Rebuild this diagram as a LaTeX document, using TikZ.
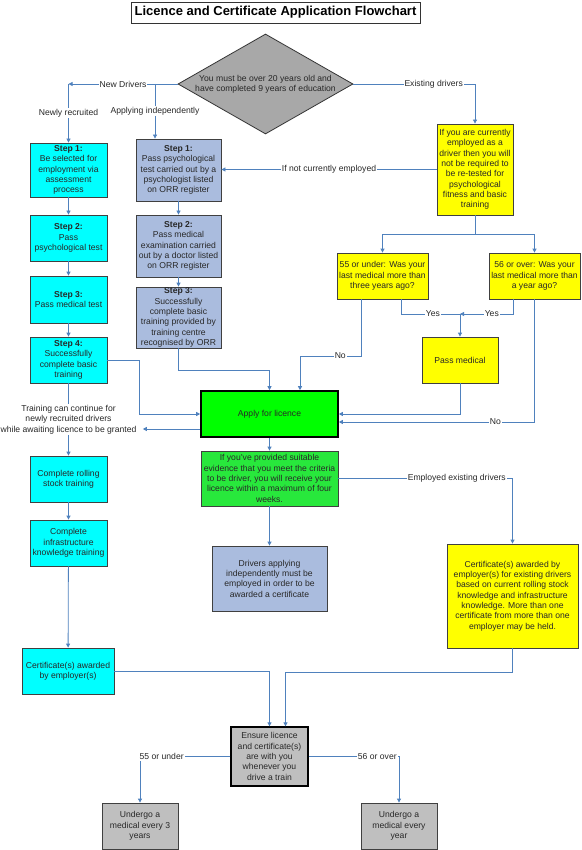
\documentclass[tikz,border=0pt]{standalone}
\usepackage{fontspec}
\setmainfont{Liberation Sans}
\usepackage{tikz}
\usetikzlibrary{arrows.meta,shapes.geometric,positioning,calc}
\definecolor{flowline}{RGB}{79,129,189}
\definecolor{stepcyan}{RGB}{0,255,255}
\definecolor{stepblue}{RGB}{170,188,222}
\definecolor{noteyellow}{RGB}{255,255,0}
\definecolor{applygreen}{RGB}{0,255,0}
\definecolor{evidgreen}{RGB}{40,232,60}
\definecolor{boxgray}{RGB}{191,191,191}
\definecolor{diagray}{RGB}{168,168,168}
\definecolor{txtgray}{RGB}{40,40,40}

\begin{document}
\begin{tikzpicture}[x=1pt,y=-1pt,
  every node/.style={font=\fontsize{8.6}{10.3}\selectfont, text=txtgray},
  box/.style={draw=black!75, line width=0.8pt, align=center, inner sep=1pt},
  cyanbox/.style={box, fill=stepcyan, minimum width=77pt},
  bluebox/.style={box, fill=stepblue, minimum width=85pt},
  yelbox/.style={box, fill=noteyellow},
  graybox/.style={box, fill=boxgray, minimum width=76pt},
  lbl/.style={fill=white, inner sep=1pt},
  link/.style={draw=flowline, line width=0.8pt},
  flow/.style={link, -{Triangle[length=4pt,width=4pt]}}]
  \useasboundingbox (0,0) rectangle (581,850);

  \node[draw=black!80, line width=0.8pt, minimum width=289pt, minimum height=21pt, inner sep=0pt,
        text=black, font=\bfseries\fontsize{13}{15}\selectfont] (title) at (275.5,12.5)
        {Licence and Certificate Application Flowchart};
  \node[diamond, draw=black!80, line width=0.8pt, fill=diagray, aspect=1.75, inner sep=0pt,
        minimum width=175pt, minimum height=100pt, align=center] (dia) at (265.5,84)
        {You must be over 20 years old and\\have completed 9 years of education};

  % newly recruited drivers
  \node[cyanbox, minimum height=54pt] (cs1) at (68.5,170) {\textbf{Step 1:}\\Be selected for\\employment via\\assessment\\process};
  \node[cyanbox, minimum height=46pt] (cs2) at (68.5,238) {\textbf{Step 2:}\\Pass\\psychological test};
  \node[cyanbox, minimum height=47pt] (cs3) at (68.5,299.5) {\textbf{Step 3:}\\Pass medical test};
  \node[cyanbox, minimum height=46pt] (cs4) at (68.5,360) {\textbf{Step 4:}\\Successfully\\complete basic\\training};
  \node[cyanbox, minimum height=46pt] (roll) at (68.5,479) {Complete rolling\\stock training};
  \node[cyanbox, minimum height=46pt] (infra) at (68.5,543) {Complete\\infrastructure\\knowledge training};
  \node[cyanbox, minimum width=92pt, minimum height=46pt] (cert) at (68,671) {Certificate(s) awarded\\by employer(s)};

  % applying independently
  \node[bluebox, minimum height=62pt] (bs1) at (178.5,170) {\textbf{Step 1:}\\Pass psychological\\test carried out by a\\psychologist listed\\on ORR register};
  \node[bluebox, minimum height=62pt] (bs2) at (178.5,246) {\textbf{Step 2:}\\Pass medical\\examination carried\\out by a doctor listed\\on ORR register};
  \node[bluebox, minimum height=61pt, inner sep=0pt] (bs3) at (178.5,317.5) {\textbf{Step 3:}\\Successfully\\complete basic\\training provided by\\training centre\\recognised by ORR};
  \node[bluebox, minimum width=115pt, minimum height=65pt] (indep) at (269.5,578.5) {Drivers applying\\independently must be\\employed in order to be\\awarded a certificate};

  % existing drivers
  \node[yelbox, minimum width=76pt, minimum height=91pt] (curr) at (475,169.5) {If you are currently\\employed as a\\driver then you will\\not be required to\\be re-tested for\\psychological\\fitness and basic\\training};
  \node[yelbox, minimum width=91pt, minimum height=46pt] (under) at (382.5,276) {55 or under: Was your\\last medical more than\\three years ago?};
  \node[yelbox, minimum width=91pt, minimum height=46pt] (over) at (534.5,276) {56 or over: Was your\\last medical more than\\a year ago?};
  \node[yelbox, minimum width=76pt, minimum height=46pt] (pass) at (460,360) {Pass medical};
  \node[yelbox, minimum width=131pt, minimum height=104pt] (ycert) at (512.5,596) {Certificate(s) awarded by\\employer(s) for existing drivers\\based on current rolling stock\\knowledge and infrastructure\\knowledge. More than one\\certificate from more than one\\employer may be held.};

  % licence
  \node[box, draw=black, line width=1.6pt, fill=applygreen, minimum width=137pt, minimum height=46pt] (apply) at (269.5,414) {Apply for licence};
  \node[box, fill=evidgreen, minimum width=137pt, minimum height=55pt] (evid) at (269.5,478.5) {If you’ve provided suitable\\evidence that you meet the criteria\\to be driver, you will receive your\\licence within a maximum of four\\weeks.};
  \node[graybox, draw=black, line width=1.3pt, minimum width=77pt, minimum height=59pt] (ensure) at (269.5,756.5) {Ensure licence\\and certificate(s)\\are with you\\whenever you\\drive a train};
  \node[graybox, minimum height=46pt] (und1) at (140,826) {Undergo a\\medical every 3\\years};
  \node[graybox, minimum height=46pt] (und2) at (399,826) {Undergo a\\medical every\\year};

  % top branches
  \coordinate (nd) at (68.5,84);
  \coordinate (ai) at (155,84);
  \draw[flow] (dia.west) -- node[lbl]{New Drivers} (nd);
  \draw[flow] (nd) -- node[lbl]{Newly recruited} (cs1.north);
  \draw[flow] (ai) -- node[lbl]{Applying independently} (ai |- bs1.north);
  \draw[flow] (dia.east) -| node[lbl,pos=0.33]{Existing drivers} (curr.north);
  \draw[flow] (curr.west) -- node[lbl]{If not currently employed} (curr.west -| bs1.east);

  \coordinate (split) at (475,234);
  \draw[link] (curr.south) -- (split);
  \draw[flow] (split) -| (under.north);
  \draw[flow] (split) -| (over.north);

  % step chains
  \draw[flow] (cs1) -- (cs2);
  \draw[flow] (cs2) -- (cs3);
  \draw[flow] (cs3) -- (cs4);
  \draw[flow] (bs1) -- (bs2);
  \draw[flow] (bs2) -- (bs3);
  \draw[flow] (bs3.south) -- ++(0,22) -| (apply.north);
  \draw[flow] (cs4.east) -- ++(32,0) |- (apply.west);

  % medical checks
  \coordinate (yes) at (460,314);
  \draw[link] (under.south -| 401,0) |- node[lbl,pos=0.77]{Yes} (yes);
  \draw[flow] (over.south -| 513,0) |- node[lbl,pos=0.7]{Yes} (yes);
  \draw[flow] (yes) -- (pass.north);
  \draw[flow] (under.south -| 361,0) -- (361,356) -| node[lbl,pos=0.17]{No} (apply.north -| 300,0);
  \draw[flow] (pass.south) |- (apply.east);
  \draw[flow] (over.south) |- node[lbl,pos=0.6]{No} ($(apply.east)+(0,8)$);

  % licence and training
  \draw[flow] (apply) -- (evid);
  \draw[flow] (evid) -- (indep);
  \draw[flow] (evid.east) -| node[lbl,pos=0.34]{Employed existing drivers} (ycert.north);
  \draw[flow] (cs4) -- node[lbl, align=center] (train) {Training can continue for\\newly recruited drivers\\while awaiting licence to be granted} (roll);
  \draw[flow, shorten >=5pt] (apply.west |- 0,429) -- (train.east |- 0,429);
  \draw[flow] (roll) -- (infra);
  \draw[flow] (infra) -- (cert);

  % certificates
  \draw[flow] (cert.east) -| (ensure.north);
  \draw[flow] (ycert.south) -- ++(0,24) -| ($(ensure.north)+(16,0)$);
  \draw[flow] (ensure.west) -| node[lbl,pos=0.38]{55 or under} (und1.north);
  \draw[flow] (ensure.east) -| node[lbl,pos=0.38]{56 or over} (und2.north);
\end{tikzpicture}
\end{document}
